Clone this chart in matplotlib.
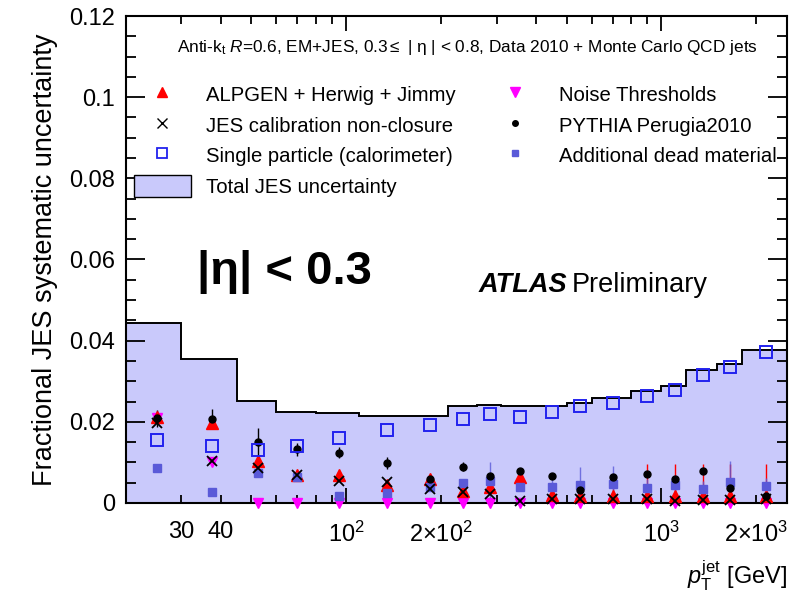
import matplotlib
matplotlib.use("Agg")
import matplotlib.pyplot as plt
from matplotlib.lines import Line2D
from matplotlib.patches import Patch
from matplotlib.ticker import FixedLocator, NullFormatter, FuncFormatter, MultipleLocator

plt.rcParams["font.family"] = ["Liberation Sans", "DejaVu Sans"]
plt.rcParams["mathtext.fontset"] = "custom"
plt.rcParams["mathtext.rm"] = "Liberation Sans"
plt.rcParams["mathtext.it"] = "Liberation Sans:italic"
plt.rcParams["mathtext.bf"] = "Liberation Sans:bold"

# pT binning (GeV) and total JES uncertainty per bin
pt_edges = [20, 30, 45, 60, 80, 110, 160, 210, 260, 310, 400, 500, 600,
            800, 1000, 1200, 1500, 1800, 2500]
total_jes = [0.0444, 0.0354, 0.0251, 0.0225, 0.0221, 0.0215, 0.0214, 0.0238,
             0.0241, 0.0238, 0.0238, 0.0246, 0.0258, 0.0277, 0.0288, 0.0328,
             0.0343, 0.0377]

# bin centres where the individual components are shown
pt_centres = [25, 37.5, 52.5, 70, 95, 135, 185, 235, 285, 355, 450, 550, 700,
              900, 1100, 1350, 1650, 2150]

alpgen = [0.0211, 0.0198, 0.0104, 0.0069, 0.0069, 0.0044, 0.0059, 0.0030,
          0.0040, 0.0063, 0.0020, 0.0016, 0.0017, 0.0017, 0.0016, 0.0017,
          0.0017, 0.0017]
alpgen_err = [0.0005, 0.0005, 0.0005, 0.0005, 0.0005, 0.0005, 0.0005, 0.0005,
              0.0005, 0.0005, 0.0005, 0.0005, 0.0020, 0.0080, 0.0080, 0.0080,
              0.0080, 0.0080]
nonclosure = [0.0196, 0.0103, 0.0085, 0.0069, 0.0055, 0.0052, 0.0034, 0.0028,
              0.0022, 0.0006, 0.0011, 0.0010, 0.0010, 0.0010, 0.0006, 0.0008,
              0.0008, 0.0010]
single_particle = [0.0155, 0.0141, 0.0131, 0.0140, 0.0161, 0.0180, 0.0193,
                   0.0207, 0.0219, 0.0212, 0.0223, 0.0238, 0.0246, 0.0264,
                   0.0278, 0.0315, 0.0334, 0.0372]
noise = [0.0210, 0.0101, 0.0, 0.0, 0.0, 0.0, 0.0, 0.0, 0.0, 0.0, 0.0, 0.0,
         0.0, 0.0, 0.0, 0.0, 0.0, 0.0]
pythia = [0.0209, 0.0207, 0.0150, 0.0132, 0.0124, 0.0098, 0.0058, 0.0089,
          0.0067, 0.0079, 0.0067, 0.0032, 0.0064, 0.0071, 0.0058, 0.0080,
          0.0036, 0.0016]
pythia_err = [0.0021, 0.0024, 0.0034, 0.0016, 0.0013, 0.0015, 0.0010, 0.0011,
              0.0008, 0.0006, 0.0008, 0.0006, 0.0006, 0.0006, 0.0006, 0.0006,
              0.0006, 0.0006]
dead_material = [0.0087, 0.0028, 0.0075, 0.0063, 0.0016, 0.0025, 0.0040,
                 0.0050, 0.0054, 0.0039, 0.0040, 0.0044, 0.0048, 0.0038,
                 0.0044, 0.0034, 0.0052, 0.0042]
dead_material_err = [0.0003, 0.0003, 0.0003, 0.0003, 0.0003, 0.0003, 0.0003,
                     0.0010, 0.0048, 0.0010, 0.0035, 0.0044, 0.0044, 0.0020,
                     0.0020, 0.0020, 0.0051, 0.0020]

# labelled x positions
xtick_vals = [30, 40, 100, 200, 1000, 2000]
xtick_text = ["30", "40", r"$10^{2}$", r"$2{\times}10^{2}$", r"$10^{3}$",
              r"$2{\times}10^{3}$"]

FILL = "#c9c9fb"
BLUE = "#2222ee"
DEAD = "#5a5ad8"

fig = plt.figure(figsize=(8.05, 5.93), dpi=100)
ax = fig.add_axes([0.1565, 0.1518, 0.821, 0.8212])

# total uncertainty band
ax.stairs(total_jes, pt_edges, fill=True, color=FILL, zorder=1)
ax.stairs(total_jes, pt_edges, color="black", lw=1.4, zorder=2)

# error bars (clipped at the frame), markers drawn on top
ax.errorbar(pt_centres, alpgen, yerr=alpgen_err, fmt="none", ecolor="red",
            elinewidth=1.0, zorder=3)
ax.errorbar(pt_centres, dead_material, yerr=dead_material_err, fmt="none",
            ecolor=DEAD, elinewidth=1.0, alpha=0.8, zorder=3)
ax.errorbar(pt_centres, pythia, yerr=pythia_err, fmt="none", ecolor="black",
            elinewidth=1.0, zorder=3)

ax.plot(pt_centres, noise, ls="none", marker="v", ms=7, color="magenta",
        mec="magenta", zorder=4, clip_on=False)
ax.plot(pt_centres, alpgen, ls="none", marker="^", ms=8, color="red",
        zorder=5, clip_on=False)
ax.plot(pt_centres, dead_material, ls="none", marker="s", ms=6, color=DEAD,
        zorder=6, clip_on=False)
ax.plot(pt_centres, nonclosure, ls="none", marker="x", ms=7, mew=1.3,
        color="black", zorder=7, clip_on=False)
ax.plot(pt_centres, pythia, ls="none", marker="o", ms=5, color="black",
        zorder=8, clip_on=False)
ax.plot(pt_centres, single_particle, ls="none", marker="s", ms=9, mfc="none",
        mec=BLUE, mew=1.4, zorder=9, clip_on=False)

ax.set_xscale("log")
ax.set_xlim(20, 2500)
ax.set_ylim(0, 0.12)

# x axis: ROOT-like log ticks with a few labelled values
ax.xaxis.set_major_locator(FixedLocator([100, 1000]))
ax.xaxis.set_minor_locator(FixedLocator(
    [20, 30, 40, 50, 60, 70, 80, 90, 200, 300, 400, 500, 600, 700, 800, 900, 2000]))
ax.xaxis.set_major_formatter(NullFormatter())
ax.xaxis.set_minor_formatter(NullFormatter())
for xv, txt in zip(xtick_vals, xtick_text):
    ax.text(xv, -0.0045, txt, ha="center", va="top", fontsize=17,
            transform=ax.transData)

ax.yaxis.set_major_locator(MultipleLocator(0.02))
ax.yaxis.set_minor_locator(MultipleLocator(0.005))
ax.yaxis.set_major_formatter(FuncFormatter(lambda v, _: f"{v:g}"))

ax.tick_params(which="both", direction="in", top=True, right=True,
               labelsize=17, width=1.3)
ax.tick_params(axis="y", which="major", length=14, pad=8)
ax.tick_params(axis="y", which="minor", length=7)
ax.tick_params(axis="x", which="major", length=11)
ax.tick_params(axis="x", which="minor", length=6)
for sp in ax.spines.values():
    sp.set_linewidth(1.5)

ax.set_ylabel("Fractional JES systematic uncertainty", fontsize=19.5,
              labelpad=8)
ax.text(1.0, -0.15, r"$p_{\mathrm{T}}^{\mathrm{jet}}$ [GeV]", fontsize=17,
        ha="right", va="center", transform=ax.transAxes)

ax.text(0.516, 0.936,
        r"Anti-k$_{\mathrm{t}}$ $R$=0.6, EM+JES, 0.3$\leq$ | η | < 0.8, "
        "Data 2010 + Monte Carlo QCD jets",
        fontsize=12.4, ha="center", va="center", transform=ax.transAxes)

ax.text(0.107, 0.474, "|η| < 0.3", fontsize=34, fontweight="bold",
        ha="left", va="center", transform=ax.transAxes)
ax.text(0.533, 0.448, "ATLAS", fontsize=19.5, fontweight="bold",
        fontstyle="italic", ha="left", va="center", transform=ax.transAxes)
ax.text(0.674, 0.448, "Preliminary", fontsize=19.5, ha="left", va="center",
        transform=ax.transAxes)

handles = [
    Line2D([], [], ls="none", marker="^", ms=7, color="red"),
    Line2D([], [], ls="none", marker="x", ms=7, color="black"),
    Line2D([], [], ls="none", marker="s", ms=7, mfc="none", mec=BLUE, mew=1.3),
    Patch(facecolor=FILL, edgecolor="black", lw=1.0),
    Line2D([], [], ls="none", marker="v", ms=7, color="magenta"),
    Line2D([], [], ls="none", marker="o", ms=4, color="black"),
    Line2D([], [], ls="none", marker="s", ms=5, color=DEAD),
]
labels = ["ALPGEN + Herwig + Jimmy", "JES calibration non-closure",
          "Single particle (calorimeter)", "Total JES uncertainty",
          "Noise Thresholds", "PYTHIA Perugia2010", "Additional dead material"]
ax.legend(handles, labels, ncol=2, loc="upper left",
          bbox_to_anchor=(0.012, 0.862), frameon=False, fontsize=14.6,
          handlelength=2.8, handleheight=1.3, handletextpad=0.75,
          columnspacing=1.55, labelspacing=0.42, borderpad=0, borderaxespad=0)

fig.savefig("out.png", dpi=100)
